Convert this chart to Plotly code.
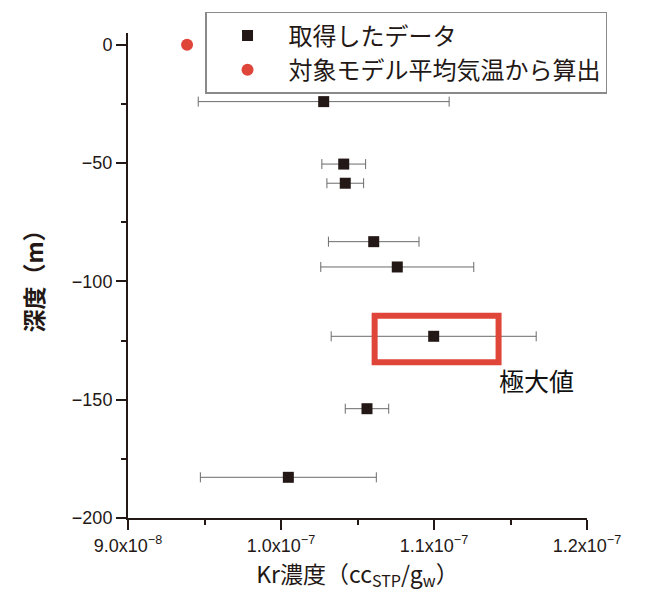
import plotly.graph_objects as go

# Measured data
depth_m = [-24.0, -50.4, -58.5, -83.2, -93.9, -123.2, -153.8, -182.8]
kr_conc = [1.0279e-7, 1.0410e-7, 1.0420e-7, 1.0606e-7, 1.0760e-7, 1.0998e-7, 1.0562e-7, 1.0048e-7]
kr_err = [0.82e-8, 0.143e-8, 0.12e-8, 0.296e-8, 0.50e-8, 0.67e-8, 0.142e-8, 0.575e-8]

# Model value
model_depth = [0]
model_conc = [9.386e-8]

series_names = ["取得したデータ", "対象モデル平均気温から算出"]

x_tickvals = [9.0e-8, 1.0e-7, 1.1e-7, 1.2e-7]
x_ticktext = ["9.0x10<sup>−8</sup>", "1.0x10<sup>−7</sup>", "1.1x10<sup>−7</sup>", "1.2x10<sup>−7</sup>"]
y_tickvals = [0, -50, -100, -150, -200]
y_ticktext = ["0", "−50", "−100", "−150", "−200"]

# Highlight box around the maximum
box_x = [1.0612e-7, 1.1422e-7]
box_y = [-114.5, -134.2]
label_text = "極大値"
label_pos = (1.1412e-7, -141.6)

AX = "#231815"
RED = "#e0453a"
FONT = "Liberation Sans, Noto Sans CJK JP, sans-serif"
CJK = "Noto Sans CJK JP, sans-serif"

fig = go.Figure()
fig.add_trace(go.Scatter(
    x=kr_conc, y=depth_m, mode="markers", name=series_names[0],
    marker=dict(symbol="square", size=11, color=AX),
    error_x=dict(type="data", array=kr_err, visible=True, color="#6b6b6b", thickness=1, width=5),
))
fig.add_trace(go.Scatter(
    x=model_conc, y=model_depth, mode="markers", name=series_names[1],
    marker=dict(symbol="circle", size=12, color=RED),
))

fig.add_shape(type="rect", xref="x", yref="y", x0=box_x[0], x1=box_x[1], y0=box_y[0], y1=box_y[1],
              line=dict(color=RED, width=6), fillcolor="rgba(0,0,0,0)")
fig.add_annotation(x=label_pos[0], y=label_pos[1], xref="x", yref="y", text=label_text, showarrow=False,
                   xanchor="left", yanchor="middle", font=dict(family=CJK, size=25, color="#111"))

fig.update_layout(
    width=648, height=601,
    margin=dict(l=120, r=69, t=25, b=91, autoexpand=False),
    paper_bgcolor="white", plot_bgcolor="white",
    showlegend=True,
    legend=dict(x=0.1678, y=1.0433, xanchor="left", yanchor="top",
                bordercolor="#8a8a8a", borderwidth=1.5, bgcolor="white",
                font=dict(family=CJK, size=24, color="#231815"),
                itemwidth=72, tracegroupgap=0, entrywidth=352, entrywidthmode="pixels"),
)
fig.update_xaxes(
    range=[9.0e-8, 1.2e-7], tickvals=x_tickvals, ticktext=x_ticktext,
    showline=True, linecolor=AX, linewidth=2, showgrid=False, zeroline=False,
    ticks="outside", ticklen=10, tickwidth=2, tickcolor=AX,
    minor=dict(dtick=0.5e-8, tick0=9.0e-8, ticks="outside", ticklen=5, tickwidth=2, tickcolor=AX),
    tickfont=dict(family=FONT, size=18, color="#231815"),
    title=dict(text="Kr濃度（cc<sub>STP</sub>/g<sub>w</sub>）", font=dict(family=CJK, size=23, color="#231815"), standoff=6),
)
fig.update_yaxes(
    range=[-200, 5], tickvals=y_tickvals, ticktext=y_ticktext,
    showline=True, linecolor=AX, linewidth=2, showgrid=False, zeroline=False,
    ticks="outside", ticklen=10, tickwidth=2, tickcolor=AX,
    minor=dict(dtick=25, tick0=0, ticks="outside", ticklen=5, tickwidth=2, tickcolor=AX),
    tickfont=dict(family=FONT, size=18, color="#231815"),
    title=dict(text="<b>深度（m）</b>", font=dict(family=CJK, size=23, color="#231815"), standoff=22),
)

fig.write_html("out.html")
